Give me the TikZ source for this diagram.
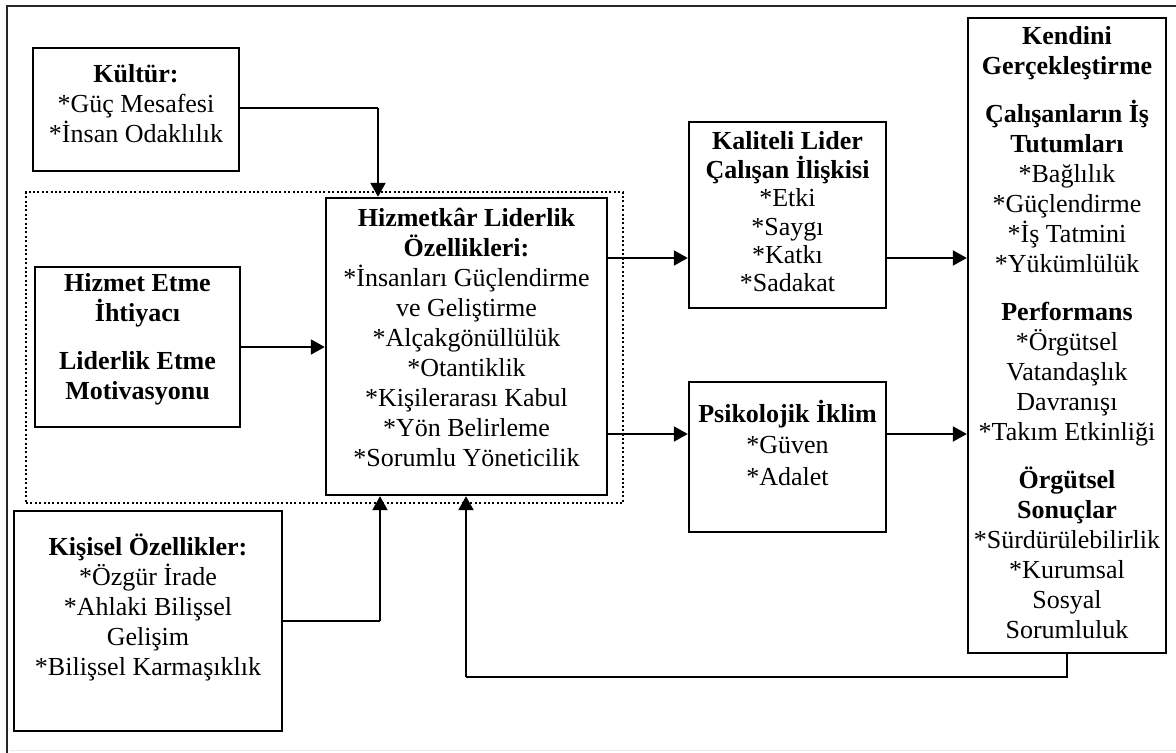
\documentclass[tikz,border=0pt]{standalone}
\usepackage{fontspec}
\setmainfont{Liberation Serif}
\usetikzlibrary{arrows.meta}
% centred lines, first baseline is the box baseline, fixed line pitch
\newcommand\lines[1]{\vtop{\lineskiplimit=-\maxdimen\halign{\hfil##\hfil\cr#1\crcr}}}
\newcommand\gap{\noalign{\vskip9pt}}
\begin{document}
\begin{tikzpicture}[x=0.5pt,y=-0.5pt,
  box/.style={draw,line width=1.2pt,rectangle,inner sep=0pt},
  txt/.style={inner sep=0pt,anchor=base,font=\fontsize{13}{15}\selectfont},
  arr/.style={line width=1pt,-{Triangle[length=7pt,width=7.5pt]}},
  link/.style={line width=0.6pt},
  group/.style={draw,line width=1pt,dash pattern=on 1pt off 1.2pt,rectangle,inner sep=0pt}]
\useasboundingbox (0,0) rectangle (1176,753);

% page frame
\draw[line width=1pt,black!85] (7,753) -- (7,6) -- (1176,6);
\draw[line width=0.5pt,black!8] (10,750) -- (1176,750);

% dotted grouping frame
\node[group,minimum width=298.5pt,minimum height=155.5pt] (core) at (324.5,347.5) {};

% boxes
\node[box,minimum width=103pt,minimum height=61.5pt] (kultur) at (136,109.5) {};
\node[box,minimum width=102.5pt,minimum height=80pt] (hizmet) at (137.5,347) {};
\node[box,minimum width=134pt,minimum height=110pt] (kisisel) at (148,621) {};
\node[box,minimum width=140.5pt,minimum height=148.5pt] (hl) at (466.5,346.5) {};
\node[box,minimum width=98.5pt,minimum height=93pt] (kal) at (787.5,215) {};
\node[box,minimum width=98.5pt,minimum height=75pt] (psi) at (787.5,457) {};
\node[box,minimum width=99pt,minimum height=317.5pt] (out) at (1067,335.5) {};

% texts
\node[txt] (kultur-t) at (136,83) {\lines{\textbf{Kültür:}\cr *Güç Mesafesi\cr *İnsan Odaklılık}};
\node[txt] (hizmet-t) at (137.5,292) {\lines{\textbf{Hizmet Etme}\cr \textbf{İhtiyacı}\cr\gap \textbf{Liderlik Etme}\cr \textbf{Motivasyonu}}};
\node[txt] (kisisel-t) at (148,555) {\lines{\textbf{Kişisel Özellikler:}\cr *Özgür İrade\cr *Ahlaki Bilişsel\cr Gelişim\cr *Bilişsel Karmaşıklık}};
\node[txt] (hl-t) at (466.5,227) {\lines{\textbf{Hizmetkâr Liderlik}\cr \textbf{Özellikleri:}\cr *İnsanları Güçlendirme\cr ve Geliştirme\cr *Alçakgönüllülük\cr *Otantiklik\cr *Kişilerarası Kabul\cr *Yön Belirleme\cr *Sorumlu Yöneticilik}};
\node[txt,font=\fontsize{13}{14.2}\selectfont] (kal-t) at (787.5,150) {\lines{\textbf{Kaliteli Lider}\cr \textbf{Çalışan İlişkisi}\cr *Etki\cr *Saygı\cr *Katkı\cr *Sadakat}};
\node[txt,font=\fontsize{13}{15.8}\selectfont] (psi-t) at (787.5,422) {\lines{\textbf{Psikolojik İklim}\cr *Güven\cr *Adalet}};
\node[txt] (out-t) at (1067,45) {\lines{\textbf{Kendini}\cr \textbf{Gerçekleştirme}\cr\gap
  \textbf{Çalışanların İş}\cr \textbf{Tutumları}\cr *Bağlılık\cr *Güçlendirme\cr *İş Tatmini\cr *Yükümlülük\cr\gap
  \textbf{Performans}\cr *Örgütsel\cr Vatandaşlık\cr Davranışı\cr *Takım Etkinliği\cr\gap
  \textbf{Örgütsel}\cr \textbf{Sonuçlar}\cr *Sürdürülebilirlik\cr *Kurumsal\cr Sosyal\cr Sorumluluk}};

% connectors
\coordinate (kbend) at (378,108);
\draw[link] (kultur.east |- kbend) -- (kbend);
\draw[arr] (kbend) -- (kbend |- hl.north);

\draw[arr] (hizmet.east) -- (hizmet.east -| hl.west);

\coordinate (kibend) at (380,621);
\draw[link] (kisisel.east) -- (kibend);
\draw[arr] (kibend) -- (kibend |- hl.south);

\coordinate (ya) at (0,258);
\coordinate (yb) at (0,434);
\draw[arr] (hl.east |- ya) -- (kal.west |- ya);
\draw[arr] (kal.east |- ya) -- (out.west |- ya);
\draw[arr] (hl.east |- yb) -- (psi.west |- yb);
\draw[arr] (psi.east |- yb) -- (out.west |- yb);

\coordinate (fb1) at (1067,677);
\coordinate (fb2) at (466,677);
\draw[link] (out.south) -- (fb1) -- (fb2);
\draw[arr] (fb2) -- (fb2 |- hl.south);
\end{tikzpicture}
\end{document}
